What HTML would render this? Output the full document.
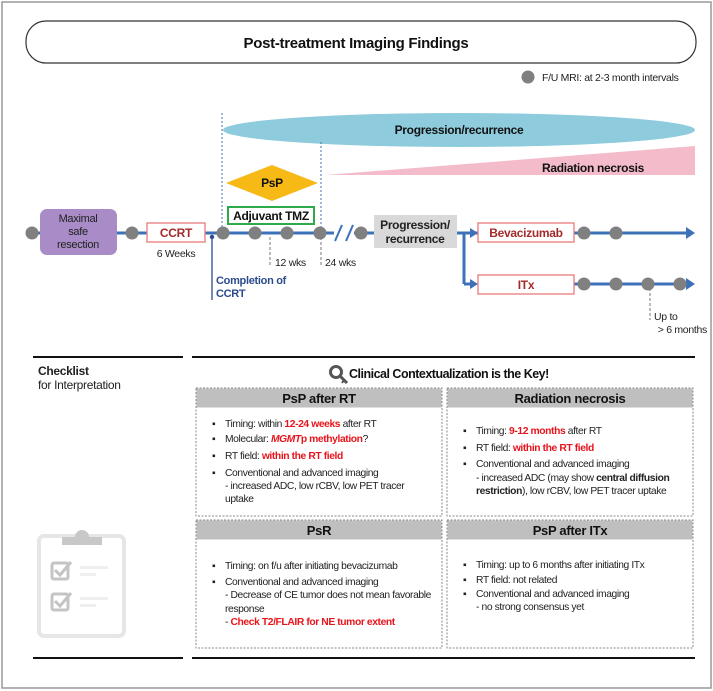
<!DOCTYPE html>
<html><head><meta charset="utf-8"><style>
html,body{margin:0;padding:0;background:#fff}
svg{display:block;font-family:"Liberation Sans",Arial,sans-serif;letter-spacing:-0.3px}
.b{font-weight:bold}
.r{fill:#e8141c;font-weight:bold}
.body text{letter-spacing:-0.4px}
</style></head><body>
<svg width="713" height="691" viewBox="0 0 713 691" xmlns="http://www.w3.org/2000/svg">
<rect x="2" y="2" width="709" height="686" fill="#fff" stroke="#999" stroke-width="1.5"/>
<rect x="26" y="21" width="670" height="42" rx="20" fill="#fff" stroke="#333" stroke-width="1.2"/>
<text x="356" y="48" text-anchor="middle" class="b" font-size="15" fill="#111">Post-treatment Imaging Findings</text>
<circle cx="528" cy="77" r="6.5" fill="#808080"/>
<text x="542" y="81" font-size="10.5" fill="#222">F/U MRI: at 2-3 month intervals</text>

<ellipse cx="459" cy="130" rx="236" ry="17" fill="#8ecbdc"/>
<text x="459" y="134" text-anchor="middle" class="b" font-size="12" fill="#111">Progression/recurrence</text>
<polygon points="325,175 695,146 695,175" fill="#f4bccb"/>
<text x="593" y="172" text-anchor="middle" class="b" font-size="12" fill="#111">Radiation necrosis</text>
<line x1="222" y1="113" x2="222" y2="233" stroke="#3d72b8" stroke-width="1" stroke-dasharray="2,2"/>
<line x1="321" y1="142" x2="321" y2="233" stroke="#3d72b8" stroke-width="1" stroke-dasharray="2,2"/>
<polygon points="226,183 272,165 318,183 272,201" fill="#f7b916"/>
<text x="272" y="187" text-anchor="middle" class="b" font-size="12" fill="#111">PsP</text>
<rect x="228" y="207" width="86" height="17" fill="#fff" stroke="#2eaa4a" stroke-width="2"/>
<text x="271" y="220" text-anchor="middle" class="b" font-size="12" fill="#111">Adjuvant TMZ</text>

<line x1="28" y1="233" x2="375" y2="233" stroke="#3d72b8" stroke-width="3"/>
<line x1="457" y1="233" x2="690" y2="233" stroke="#3d72b8" stroke-width="3"/>
<polygon points="695,233 686,227 686,239" fill="#3d72b8"/>
<line x1="464" y1="233" x2="464" y2="284" stroke="#3d72b8" stroke-width="3"/>
<line x1="464" y1="284" x2="472" y2="284" stroke="#3d72b8" stroke-width="3"/>
<polygon points="478,233 470,228 470,238" fill="#3d72b8"/>
<polygon points="478,284 470,279 470,289" fill="#3d72b8"/>
<line x1="574" y1="284" x2="690" y2="284" stroke="#3d72b8" stroke-width="3"/>
<polygon points="695,284 686,278 686,290" fill="#3d72b8"/>
<rect x="334" y="226" width="20" height="14" fill="#fff"/>
<line x1="335" y1="241" x2="342" y2="225" stroke="#3d72b8" stroke-width="2"/>
<line x1="346" y1="241" x2="353" y2="225" stroke="#3d72b8" stroke-width="2"/>

<g fill="#808080">
<circle cx="32" cy="233" r="6.5"/><circle cx="132" cy="233" r="6.5"/>
<circle cx="223" cy="233" r="6.5"/><circle cx="255" cy="233" r="6.5"/>
<circle cx="287" cy="233" r="6.5"/><circle cx="320" cy="233" r="6.5"/>
<circle cx="361" cy="233" r="6.5"/>
<circle cx="584" cy="233" r="6.5"/><circle cx="616" cy="233" r="6.5"/>
<circle cx="584" cy="284" r="6.5"/><circle cx="616" cy="284" r="6.5"/>
<circle cx="648" cy="284" r="6.5"/><circle cx="680" cy="284" r="6.5"/>
</g>

<rect x="40" y="209" width="77" height="46" rx="7" fill="#a98bc7"/>
<text x="78" y="222" text-anchor="middle" font-size="11" fill="#222">Maximal</text>
<text x="78" y="235" text-anchor="middle" font-size="11" fill="#222">safe</text>
<text x="78" y="248" text-anchor="middle" font-size="11" fill="#222">resection</text>

<rect x="147" y="223" width="58" height="19" fill="#fff" stroke="#e87a7a" stroke-width="1.3"/>
<text x="176" y="237" text-anchor="middle" class="b" font-size="12" fill="#a32b2b">CCRT</text>
<text x="176" y="257" text-anchor="middle" font-size="10.5" fill="#222">6 Weeks</text>

<line x1="212" y1="236" x2="212" y2="300" stroke="#2b4b8c" stroke-width="1.3"/>
<circle cx="212" cy="237" r="2.2" fill="#2b4b8c"/>
<text x="216" y="284" class="b" font-size="11" fill="#2b4b8c">Completion of</text>
<text x="216" y="297" class="b" font-size="11" fill="#2b4b8c">CCRT</text>

<line x1="270" y1="237" x2="270" y2="267" stroke="#777" stroke-width="1" stroke-dasharray="3,2"/>
<text x="275" y="266" font-size="10.5" fill="#222">12 wks</text>
<line x1="321" y1="237" x2="321" y2="267" stroke="#777" stroke-width="1" stroke-dasharray="3,2"/>
<text x="325" y="266" font-size="10.5" fill="#222">24 wks</text>

<rect x="374" y="215" width="83" height="33" fill="#d9d9d9"/>
<text x="415" y="229" text-anchor="middle" class="b" font-size="12" fill="#222">Progression/</text>
<text x="415" y="243" text-anchor="middle" class="b" font-size="12" fill="#222">recurrence</text>

<rect x="478" y="223" width="96" height="19" fill="#fff" stroke="#e87a7a" stroke-width="1.3"/>
<text x="526" y="237" text-anchor="middle" class="b" font-size="12" fill="#a32b2b">Bevacizumab</text>
<rect x="478" y="275" width="96" height="19" fill="#fff" stroke="#e87a7a" stroke-width="1.3"/>
<text x="526" y="289" text-anchor="middle" class="b" font-size="12" fill="#a32b2b">ITx</text>

<line x1="650" y1="288" x2="650" y2="320" stroke="#777" stroke-width="1" stroke-dasharray="3,2"/>
<text x="654" y="320" font-size="10.5" fill="#222">Up to</text>
<text x="707" y="333" text-anchor="end" font-size="10.5" fill="#222">&gt; 6 months</text>

<line x1="33" y1="357" x2="183" y2="357" stroke="#111" stroke-width="2"/>
<line x1="192" y1="357" x2="695" y2="357" stroke="#111" stroke-width="2"/>
<line x1="33" y1="658" x2="183" y2="658" stroke="#111" stroke-width="2"/>
<line x1="192" y1="658" x2="695" y2="658" stroke="#111" stroke-width="2"/>
<text x="38" y="375" class="b" font-size="12" fill="#222">Checklist</text>
<text x="38" y="389" font-size="12" fill="#222">for Interpretation</text>

<circle cx="336" cy="372" r="5.5" fill="none" stroke="#555" stroke-width="3"/>
<line x1="340" y1="376" x2="347" y2="383" stroke="#555" stroke-width="3"/>
<line x1="344" y1="380" x2="342" y2="383" stroke="#555" stroke-width="2"/>
<text x="349" y="378" class="b" font-size="12.5" fill="#111" style="letter-spacing:-0.5px">Clinical Contextualization is the Key!</text>

<g stroke="#888" stroke-width="1" stroke-dasharray="2,1.5">
<rect x="196" y="388" width="246" height="128" fill="#fff"/>
<rect x="447" y="388" width="246" height="128" fill="#fff"/>
<rect x="196" y="520" width="246" height="128" fill="#fff"/>
<rect x="447" y="520" width="246" height="128" fill="#fff"/>
</g>
<g fill="#bfbfbf">
<rect x="196.5" y="388.5" width="245" height="19"/>
<rect x="447.5" y="388.5" width="245" height="19"/>
<rect x="196.5" y="520.5" width="245" height="19"/>
<rect x="447.5" y="520.5" width="245" height="19"/>
</g>
<g class="b" font-size="13" fill="#111" text-anchor="middle">
<text x="319" y="403">PsP after RT</text>
<text x="570" y="403">Radiation necrosis</text>
<text x="319" y="535">PsR</text>
<text x="570" y="535">PsP after ITx</text>
</g>

<g class="body" font-size="10.3" fill="#222">
<text x="212" y="427">▪</text><text x="225" y="427">Timing: within <tspan class="r">12-24 weeks</tspan> after RT</text>
<text x="212" y="442">▪</text><text x="225" y="442">Molecular: <tspan class="r" font-style="italic">MGMT</tspan><tspan class="r">p methylation</tspan>?</text>
<text x="212" y="459">▪</text><text x="225" y="459">RT field: <tspan class="r">within the RT field</tspan></text>
<text x="212" y="476">▪</text><text x="225" y="476">Conventional and advanced imaging</text>
<text x="225" y="489">- increased ADC, low rCBV, low PET tracer</text>
<text x="225" y="502">uptake</text>

<text x="463" y="434">▪</text><text x="476" y="434">Timing: <tspan class="r">9-12 months</tspan> after RT</text>
<text x="463" y="451">▪</text><text x="476" y="451">RT field: <tspan class="r">within the RT field</tspan></text>
<text x="463" y="467">▪</text><text x="476" y="467">Conventional and advanced imaging</text>
<text x="476" y="481">- increased ADC (may show <tspan font-weight="bold">central diffusion</tspan></text>
<text x="476" y="494"><tspan font-weight="bold">restriction</tspan>), low rCBV, low PET tracer uptake</text>

<text x="212" y="569">▪</text><text x="225" y="569">Timing: on f/u after initiating bevacizumab</text>
<text x="212" y="585">▪</text><text x="225" y="585">Conventional and advanced imaging</text>
<text x="225" y="598">- Decrease of CE tumor does not mean favorable</text>
<text x="225" y="612">response</text>
<text x="225" y="625">- <tspan class="r">Check T2/FLAIR for NE tumor extent</tspan></text>

<text x="463" y="568">▪</text><text x="476" y="568">Timing: up to 6 months after initiating ITx</text>
<text x="463" y="583">▪</text><text x="476" y="583">RT field: not related</text>
<text x="463" y="597">▪</text><text x="476" y="597">Conventional and advanced imaging</text>
<text x="476" y="610">- no strong consensus yet</text>
</g>

<rect x="39" y="536" width="85" height="100" rx="5" fill="#fff" stroke="#e6e6e6" stroke-width="4"/>
<path d="M62,545 L62,537 L75,537 A7,7 0 0 1 89,537 L102,537 L102,545 Z" fill="#c8c8c8"/>
<g fill="none" stroke="#c4c4c4" stroke-width="3">
<rect x="52" y="563" width="16" height="16" rx="2"/>
<rect x="52" y="594" width="16" height="16" rx="2"/>
<polyline points="55,570 60,575 71,562"/>
<polyline points="55,601 60,606 71,593"/>
</g>
<g fill="#efefef"><rect x="80" y="566" width="28" height="3"/><rect x="80" y="573" width="16" height="3"/>
<rect x="80" y="597" width="28" height="3"/><rect x="80" y="604" width="16" height="3"/></g>
</svg>
</body></html>
